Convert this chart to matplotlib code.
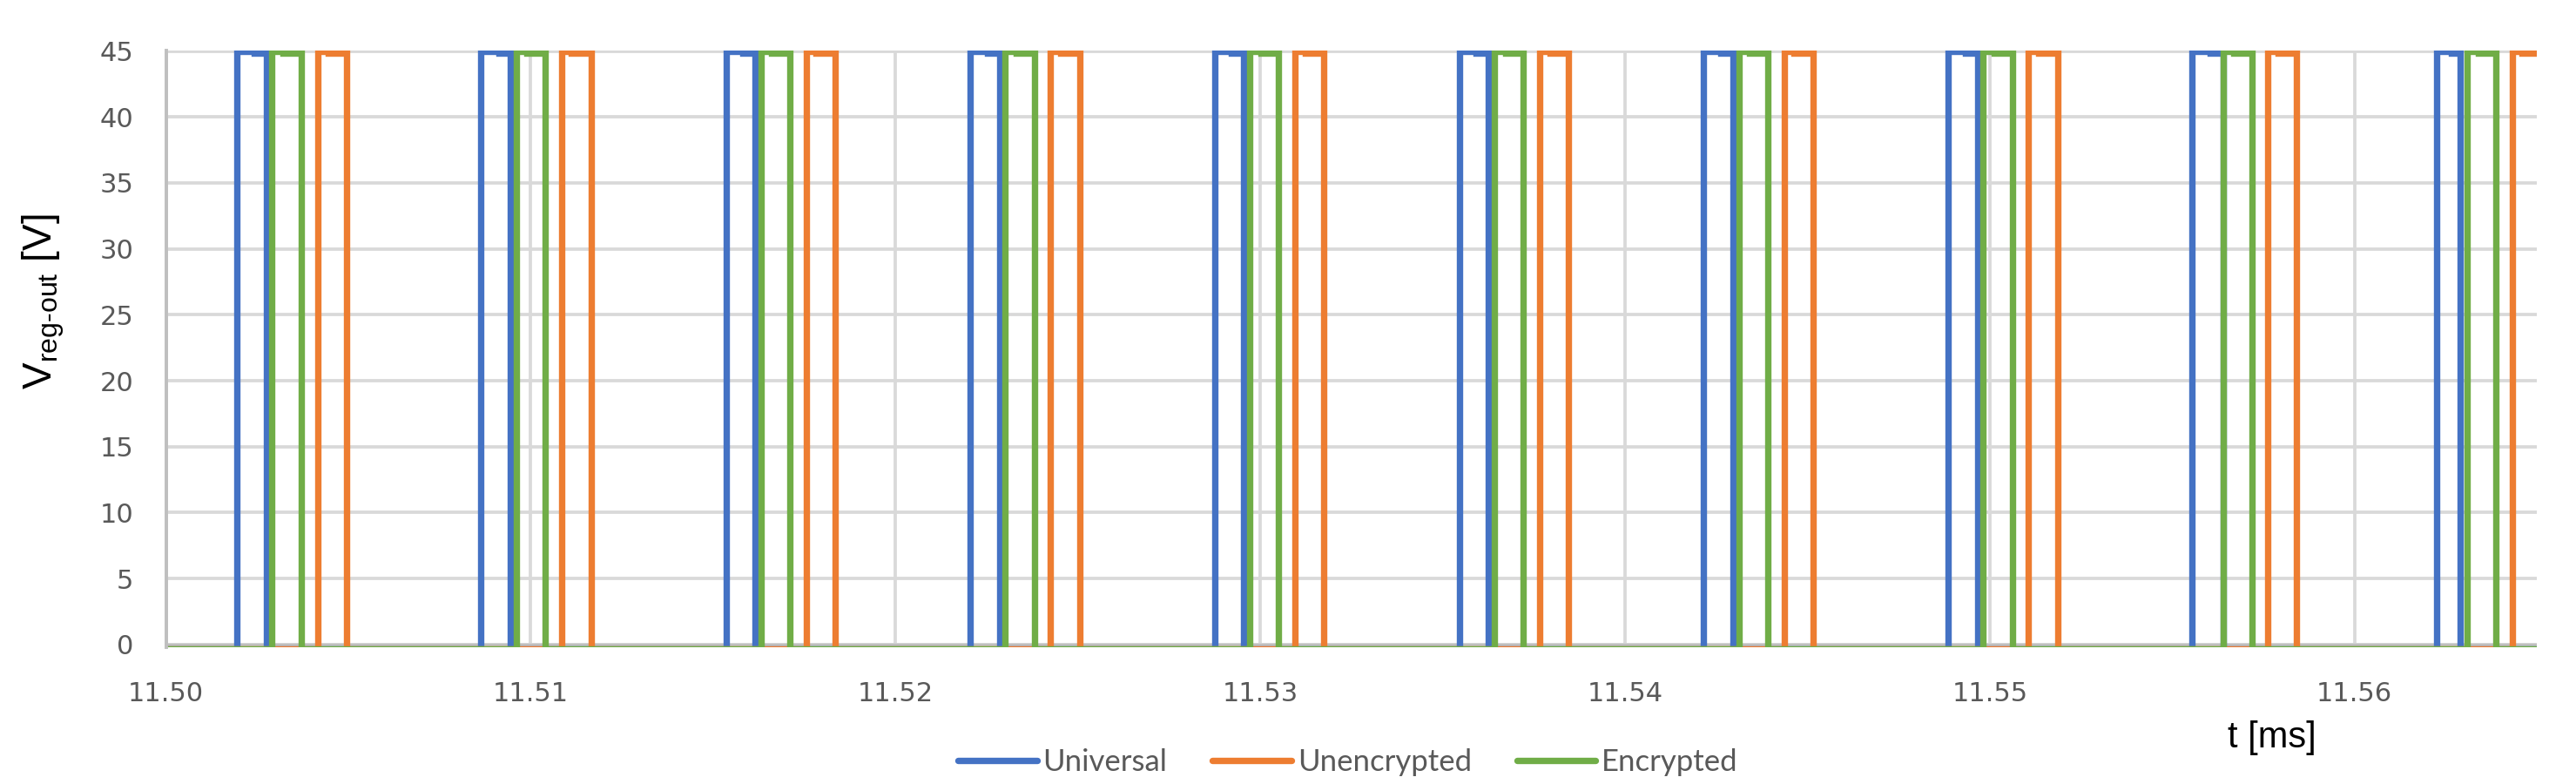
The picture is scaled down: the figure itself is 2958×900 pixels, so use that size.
import matplotlib
matplotlib.use("Agg")
import matplotlib.pyplot as plt
import numpy as np

plt.rcParams['mathtext.fontset'] = 'custom'
plt.rcParams['mathtext.rm'] = 'Liberation Sans'
plt.rcParams['mathtext.it'] = 'Liberation Sans:italic'

# ---------------- data (times in ms) ----------------
series_names = ["Universal", "Unencrypted", "Encrypted"]
series_colors = ["#4472C4", "#ED7D31", "#70AD47"]

universal_rise = [11.50195, 11.50864, 11.51535, 11.52205, 11.52875, 11.53546, 11.54216, 11.54886, 11.55555, 11.56226]
universal_sag = [11.50242, 11.50913, 11.51582, 11.52252, 11.52922, 11.53593, 11.54263, 11.54933, 11.55605, 11.56265]
universal_fall = [11.50275, 11.50944, 11.51615, 11.52285, 11.52955, 11.53626, 11.54296, 11.54966, 11.55641, 11.56290]

encrypted_rise = [11.50291, 11.50961, 11.51631, 11.52301, 11.52971, 11.53642, 11.54312, 11.54982, 11.55641, 11.56309]
encrypted_sag = [11.50321, 11.50990, 11.51661, 11.52331, 11.53001, 11.53672, 11.54342, 11.55012, 11.55670, 11.56339]
encrypted_fall = [11.50372, 11.51040, 11.51711, 11.52381, 11.53051, 11.53722, 11.54392, 11.55062, 11.55720, 11.56388]

unencrypted_rise = [11.50416, 11.51085, 11.51755, 11.52425, 11.53095, 11.53766, 11.54436, 11.55106, 11.55763, 11.56432]
unencrypted_sag = [11.50444, 11.51111, 11.51783, 11.52453, 11.53123, 11.53794, 11.54464, 11.55134, 11.55791, 11.56460]
unencrypted_fall = [11.50496, 11.51165, 11.51835, 11.52505, 11.53175, 11.53846, 11.54516, 11.55186, 11.55842, 11.56510]

v_high = 45.0      # V, pulse level right after the rising edge
v_sag = 44.85      # V, pulse level later in the pulse
v_low = -0.35      # V, off level (sits just under the axis line)

x_ticks = [11.50, 11.51, 11.52, 11.53, 11.54, 11.55, 11.56]
x_ticklabels = ["11.50", "11.51", "11.52", "11.53", "11.54", "11.55", "11.56"]
y_ticks = [0, 5, 10, 15, 20, 25, 30, 35, 40, 45]
x_range = (11.50, 11.565)


def square_wave(rises, sags, falls, start, end):
    xs, ys = [start], [v_low]
    for r, s, f in zip(rises, sags, falls):
        xs += [r, r, s, s, f, f]
        ys += [v_low, v_high, v_high, v_sag, v_sag, v_low]
    xs.append(end)
    ys.append(v_low)
    return np.array(xs), np.array(ys)


W, H = 2958, 900
fig = plt.figure(figsize=(W / 100, H / 100), dpi=100)
ax = fig.add_axes([190.6 / W, 1 - 742.7 / H, (2913 - 190.6) / W, (742.7 - 57.6) / H])

grid_c = "#D9D9D9"
axis_c = "#BFBFBF"
text_c = "#595959"

ax.set_xlim(*x_range)
ax.set_ylim(-0.2, 45.07)
ax.set_xticks(x_ticks)
ax.set_xticklabels(x_ticklabels)
ax.set_yticks(y_ticks)
ax.set_axisbelow(True)
ax.grid(True, color=grid_c, lw=2.7)
for s in ["top", "right", "bottom"]:
    ax.spines[s].set_visible(False)
ax.spines["left"].set_color(axis_c)
ax.spines["left"].set_linewidth(2.8)
ax.axhline(0, color=axis_c, lw=2.5, zorder=1.5)

ax.tick_params(axis="both", length=0, colors=text_c, labelsize=22)
ax.tick_params(axis="y", pad=27)
ax.tick_params(axis="x", pad=28)
for lab in ax.get_xticklabels() + ax.get_yticklabels():
    lab.set_fontfamily("DejaVu Sans")

end_x = x_range[1] + 0.001
waves = [
    square_wave(universal_rise, universal_sag, universal_fall, x_range[0], end_x),
    square_wave(unencrypted_rise, unencrypted_sag, unencrypted_fall, x_range[0], end_x),
    square_wave(encrypted_rise, encrypted_sag, encrypted_fall, x_range[0], end_x),
]
handles = []
for (xs, ys), name, col in zip(waves, series_names, series_colors):
    ln, = ax.plot(xs, ys, color=col, lw=5.3, label=name, solid_joinstyle="miter")
    handles.append(ln)

fig.text(50 / W, 1 - 346 / H, r"V$_{\text{reg-out}}$ [V]", rotation=90, ha="center", va="center",
         fontsize=33, family="Liberation Sans", color="black")
fig.text(2609 / W, 1 - 847 / H, "t [ms]", ha="center", va="center",
         fontsize=30, family="Liberation Sans", color="black")

leg = fig.legend(handles=handles, loc="center", bbox_to_anchor=(1548 / W, 1 - 875 / H), ncol=3,
                 frameon=False, prop={"family": "Lato", "size": 25}, handlelength=2.6,
                 handletextpad=0.2, columnspacing=1.5, borderpad=0)
for t in leg.get_texts():
    t.set_color(text_c)
for l in leg.get_lines():
    l.set_linewidth(5.3)
    l.set_solid_capstyle("round")

fig.savefig("out.png", dpi=100)
